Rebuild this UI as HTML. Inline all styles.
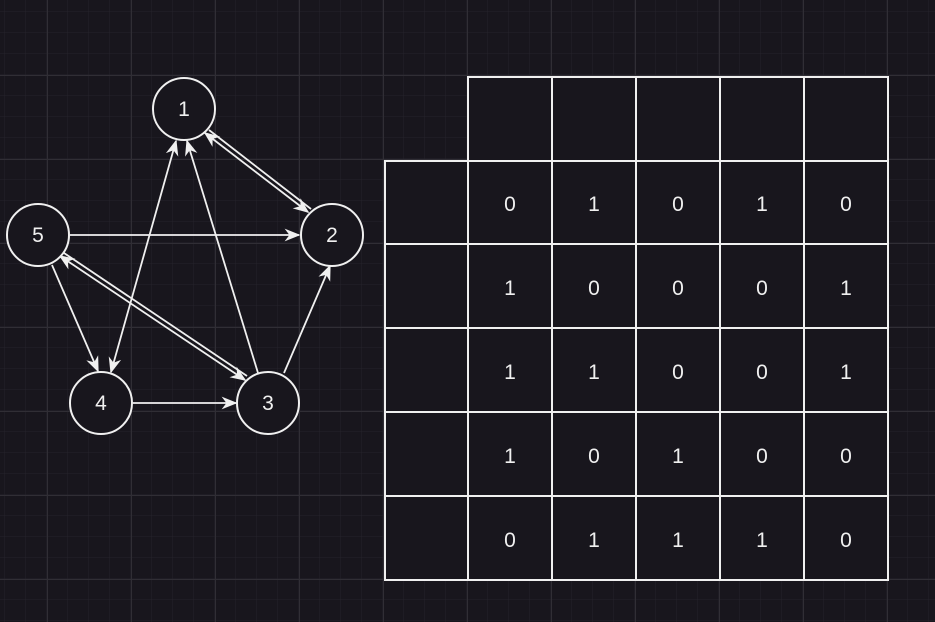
<!DOCTYPE html>
<html><head><meta charset="utf-8"><style>
html,body{margin:0;padding:0;background:#18161d;}
svg{display:block}
text{font-family:"Liberation Sans",sans-serif;fill:#f0f0f0}
</style></head><body>
<svg width="935" height="622" viewBox="0 0 935 622" xmlns="http://www.w3.org/2000/svg">
<defs>
<pattern id="minor" width="21" height="21" patternUnits="userSpaceOnUse" x="5" y="12">
<path d="M21 0V21M0 21H21" stroke="#25232a" stroke-width="1" fill="none"/>
</pattern>
<pattern id="major" width="84" height="84" patternUnits="userSpaceOnUse" x="47" y="75">
<path d="M0.5 0V84M0 0.5H84" stroke="#302e35" stroke-width="1" fill="none"/>
</pattern>
<marker id="b" viewBox="0 0 10 8" refX="9" refY="4" markerWidth="16" markerHeight="13" markerUnits="userSpaceOnUse" orient="auto-start-reverse">
<path d="M0,0 L10,4 L0,8 L3,4 z" fill="#f0f0f0"/>
</marker>
</defs>
<rect width="935" height="622" fill="#18161d"/>
<rect width="935" height="622" fill="url(#minor)"/>
<rect width="935" height="622" fill="url(#major)"/>

<g stroke="#f0f0f0" stroke-width="1.8" fill="none">
<line x1="205" y1="133" x2="308" y2="212" marker-start="url(#b)" marker-end="url(#b)"/>
<line x1="209" y1="130" x2="311" y2="209"/>
<line x1="70" y1="235" x2="299" y2="235" marker-end="url(#b)"/>
<line x1="60" y1="256" x2="245" y2="380" marker-start="url(#b)" marker-end="url(#b)"/>
<line x1="64" y1="253" x2="247" y2="376"/>
<line x1="52" y1="265" x2="98" y2="371" marker-end="url(#b)"/>
<line x1="111" y1="372" x2="176" y2="141" marker-start="url(#b)" marker-end="url(#b)"/>
<line x1="258" y1="373" x2="187" y2="141" marker-end="url(#b)"/>
<line x1="284" y1="373" x2="330" y2="266" marker-end="url(#b)"/>
<line x1="133" y1="403" x2="236" y2="403" marker-end="url(#b)"/>
</g>

<g stroke="#f0f0f0" stroke-width="2" fill="#18161d">
<circle cx="184" cy="109" r="31"/>
<circle cx="332" cy="235" r="31"/>
<circle cx="38" cy="235" r="31"/>
<circle cx="101" cy="403" r="31"/>
<circle cx="268" cy="403" r="31"/>
</g>
<g font-size="21" text-anchor="middle">
<text x="184" y="116">1</text>
<text x="332" y="242">2</text>
<text x="38" y="242">5</text>
<text x="101" y="410">4</text>
<text x="268" y="410">3</text>
</g>

<g stroke="#f0f0f0" stroke-width="2" fill="#18161d">
<rect x="468" y="77" width="420" height="84"/>
<rect x="385" y="161" width="503" height="419"/>
<path d="M552 77V580M636 77V580M720 77V580M804 77V580M468 161V580M385 244H888M385 328H888M385 412H888M385 496H888" fill="none"/>
</g>
<g font-size="21" text-anchor="middle">
<text x="510" y="211">0</text><text x="594" y="211">1</text><text x="678" y="211">0</text><text x="762" y="211">1</text><text x="846" y="211">0</text>
<text x="510" y="295">1</text><text x="594" y="295">0</text><text x="678" y="295">0</text><text x="762" y="295">0</text><text x="846" y="295">1</text>
<text x="510" y="379">1</text><text x="594" y="379">1</text><text x="678" y="379">0</text><text x="762" y="379">0</text><text x="846" y="379">1</text>
<text x="510" y="463">1</text><text x="594" y="463">0</text><text x="678" y="463">1</text><text x="762" y="463">0</text><text x="846" y="463">0</text>
<text x="510" y="547">0</text><text x="594" y="547">1</text><text x="678" y="547">1</text><text x="762" y="547">1</text><text x="846" y="547">0</text>
</g>
</svg>
</body></html>
